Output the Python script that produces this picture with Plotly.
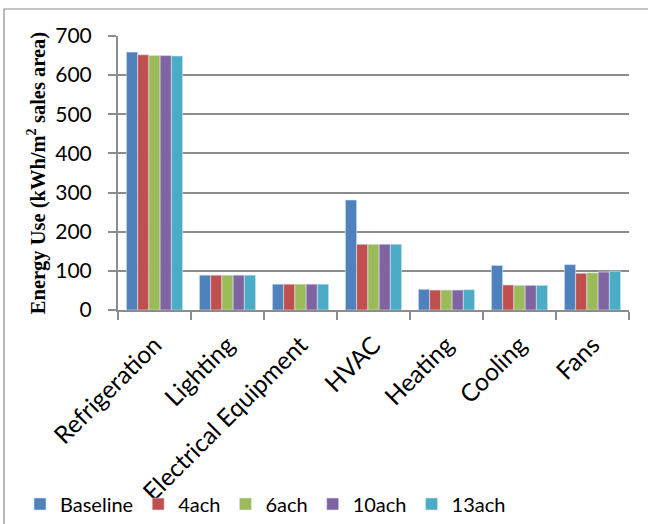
import plotly.graph_objects as go

categories = ["Refrigeration", "Lighting", "Electrical Equipment", "HVAC",
              "Heating", "Cooling", "Fans"]
series_names = ["Baseline", "4ach", "6ach", "10ach", "13ach"]
baseline = [659, 89, 66, 281, 53, 114, 116]
ach4 = [652, 89, 66, 168, 51, 64, 94]
ach6 = [650, 89, 66, 168, 51, 63, 95]
ach10 = [650, 89, 66, 168, 51, 63, 97]
ach13 = [649, 89, 66, 168, 52, 63, 99]
colors = ["#4F81BD", "#C0504D", "#9BBB59", "#8064A2", "#4BACC6"]
y_ticks = [0, 100, 200, 300, 400, 500, 600, 700]

fig = go.Figure()
for name, vals, col in zip(series_names, [baseline, ach4, ach6, ach10, ach13], colors):
    fig.add_trace(go.Bar(x=categories, y=vals, name=name,
                         marker=dict(color=col, line=dict(color="#dfe8f2", width=0.6))))

font_sans = "Lato, 'Open Sans', sans-serif"
W, L, R = 648, 118, 19
PW = W - L - R
H, T, B = 524, 36, 214
PH = H - T - B

fig.update_layout(
    width=W, height=H,
    margin=dict(l=L, r=R, t=T, b=B),
    paper_bgcolor="white", plot_bgcolor="white",
    barmode="group", bargap=0.23, bargroupgap=0,
    font=dict(family=font_sans, size=20, color="black"),
    showlegend=True,
    legend=dict(orientation="h", x=20 / W, xref="container",
                y=(H - 504) / H, yref="container", yanchor="middle",
                font=dict(size=20, family=font_sans), traceorder="normal",
                bgcolor="rgba(0,0,0,0)", itemwidth=30, tracegroupgap=0),
    xaxis=dict(type="category", tickangle=-45, tickson="boundaries",
               ticks="outside", ticklen=8, tickcolor="#8c8c8c", tickwidth=1.5,
               showline=True, linecolor="#8c8c8c", linewidth=2,
               tickfont=dict(size=24.5, family=font_sans), ticklabelstandoff=9,
               showgrid=False, automargin=False),
    yaxis=dict(range=[0, 700], tickvals=y_ticks, ticks="outside", ticklen=8,
               tickcolor="#8c8c8c", tickwidth=1.5,
               showline=True, linecolor="#8c8c8c", linewidth=2,
               showgrid=True, gridcolor="#8c8c8c", gridwidth=2,
               tickfont=dict(size=21, family=font_sans), ticklabelstandoff=12,
               title=dict(text="<b>Energy Use (kWh/m<sup>2</sup> sales area)</b>",
                          font=dict(family="'Liberation Serif', 'Times New Roman', serif",
                                    size=20.5), standoff=4),
               automargin=False, zeroline=False),
)

# chart frame
fig.add_shape(type="rect", xref="paper", yref="paper",
              x0=(4 - L) / PW, x1=1.1, y0=-0.9, y1=(310 - 9) / PH,
              line=dict(color="#8c8c8c", width=1.2), fillcolor="rgba(0,0,0,0)", layer="below")

fig.write_html("out.html")
